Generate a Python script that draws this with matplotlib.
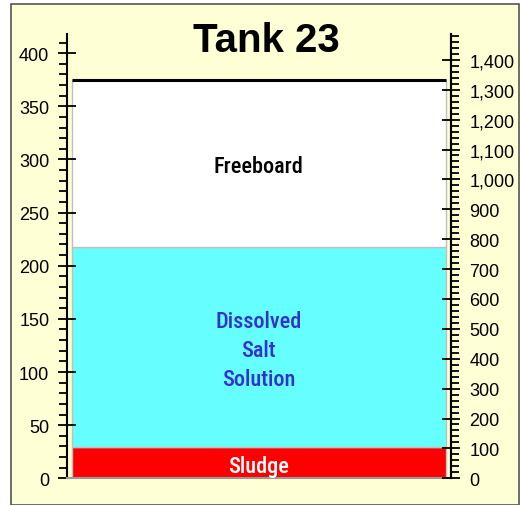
import matplotlib
matplotlib.use("Agg")
import matplotlib.pyplot as plt
import matplotlib.patches as patches
from matplotlib.ticker import MultipleLocator, StrMethodFormatter

# tank layers, inches from the bottom
layer_names = ["Sludge", "Dissolved\nSalt\nSolution", "Freeboard"]
layer_heights = [29, 189, 157]
layer_colors = ["#ff0000", "#66ffff", "#ffffff"]
label_colors = ["#ffffff", "#3333cc", "#000000"]
tank_name = "Tank 23"
kgal_per_inch = 3.556
ymax = 418

bg = "#ffffd6"
fig = plt.figure(figsize=(5.22, 5.06), dpi=100)
fig.patch.set_facecolor("white")
border = patches.Rectangle((11 / 522, 0.0), 508 / 522, 501 / 506,
                           transform=fig.transFigure, facecolor=bg,
                           edgecolor="#555555", linewidth=1.2, zorder=-10)
fig.patches.append(border)

ax = fig.add_axes([66.7 / 522, 26.7 / 506, 384 / 522, 444.3 / 506])
ax.set_facecolor(bg)

label_fonts = ["Roboto Condensed", "DejaVu Sans Condensed", "Roboto", "DejaVu Sans"]
bottom = 0
for name, h, c, tc in zip(layer_names, layer_heights, layer_colors, label_colors):
    ax.bar(0, h, bottom=bottom, width=0.975, color=c, edgecolor="#c0c0c0", linewidth=1)
    ax.text(0, bottom + h / 2 - 3, name, ha="center", va="center", color=tc,
            fontsize=16, fontweight="medium", linespacing=1.42, family=label_fonts)
    bottom += h
ax.plot([-0.4875, 0.4875], [bottom, bottom], color="black", linewidth=2.2,
        solid_capstyle="butt")

ax.set_xlim(-0.5, 0.5)
ax.set_ylim(0, ymax)
ax.set_xticks([])
ax.spines["top"].set_visible(False)
ax.spines["bottom"].set_color("#999999")
ax.spines["bottom"].set_linewidth(1.5)
ax.spines["left"].set_linewidth(1.5)
ax.spines["right"].set_linewidth(1.5)

ax.yaxis.set_major_locator(MultipleLocator(50))
ax.yaxis.set_minor_locator(MultipleLocator(10))
ax.tick_params(axis="y", which="major", direction="inout", length=13, width=1.3,
               labelsize=13, pad=6)
ax.tick_params(axis="y", which="minor", direction="out", length=6, width=1.3)

ax2 = ax.twinx()
ax2.set_ylim(0, ymax * kgal_per_inch)
ax2.yaxis.set_major_locator(MultipleLocator(100))
ax2.yaxis.set_minor_locator(MultipleLocator(20))
ax2.yaxis.set_major_formatter(StrMethodFormatter("{x:,.0f}"))
ax2.tick_params(axis="y", which="major", direction="inout", length=13, width=1.3,
                labelsize=13, pad=7)
ax2.tick_params(axis="y", which="minor", direction="out", length=6, width=1.3)
for s in ["top", "bottom", "left"]:
    ax2.spines[s].set_visible(False)
ax2.spines["right"].set_linewidth(1.5)

for a in (ax, ax2):
    for lab in a.get_yticklabels():
        lab.set_family(["Liberation Sans", "DejaVu Sans"])

fig.text(266 / 522, 1 - 41 / 506, tank_name, ha="center", va="center",
         fontsize=29, fontweight="bold", family=["Liberation Sans", "DejaVu Sans"])

fig.savefig("out.png", dpi=100, facecolor=fig.get_facecolor())
